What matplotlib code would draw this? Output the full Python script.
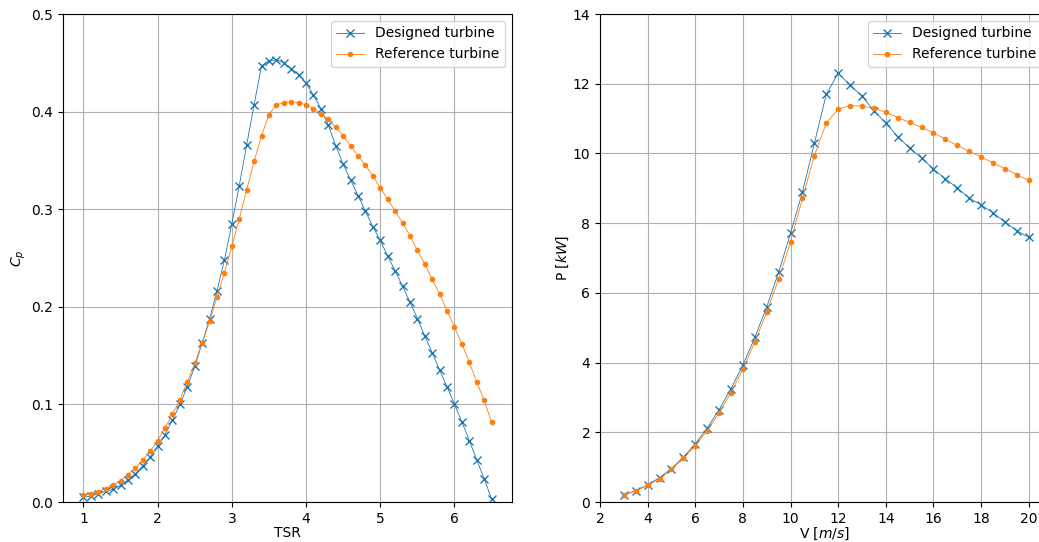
import numpy as np
import matplotlib
matplotlib.use('Agg')
import matplotlib.pyplot as plt

# TSR - Cp
tsr = [1.0, 1.1, 1.2, 1.3, 1.4, 1.5, 1.6, 1.7, 1.8, 1.9,
       2.0, 2.1, 2.2, 2.3, 2.4, 2.5, 2.6, 2.7, 2.8, 2.9,
       3.0, 3.1, 3.2, 3.3, 3.4, 3.5, 3.6, 3.7, 3.8, 3.9,
       4.0, 4.1, 4.2, 4.3, 4.4, 4.5, 4.6, 4.7, 4.8, 4.9,
       5.0, 5.1, 5.2, 5.3, 5.4, 5.5, 5.6, 5.7, 5.8, 5.9,
       6.0, 6.1, 6.2, 6.3, 6.4, 6.5]
cp_designed = [0.005, 0.006, 0.0085, 0.011, 0.013, 0.017, 0.0225, 0.029, 0.037, 0.046,
               0.057, 0.069, 0.084, 0.100, 0.118, 0.139, 0.163, 0.1875, 0.2165, 0.248,
               0.285, 0.324, 0.366, 0.407, 0.447, 0.452, 0.453, 0.450, 0.444, 0.438,
               0.429, 0.417, 0.403, 0.386, 0.365, 0.346, 0.330, 0.314, 0.298, 0.282,
               0.268, 0.252, 0.237, 0.221, 0.205, 0.188, 0.170, 0.153, 0.135, 0.118,
               0.100, 0.082, 0.063, 0.043, 0.024, 0.003]
cp_reference = [0.007, 0.0085, 0.0106, 0.0137, 0.017, 0.022, 0.028, 0.035, 0.043, 0.052,
                0.063, 0.076, 0.090, 0.105, 0.123, 0.142, 0.163, 0.185, 0.210, 0.235,
                0.262, 0.290, 0.320, 0.349, 0.375, 0.397, 0.407, 0.409, 0.410, 0.409,
                0.407, 0.403, 0.398, 0.392, 0.384, 0.375, 0.365, 0.355, 0.345, 0.334,
                0.322, 0.310, 0.298, 0.286, 0.273, 0.258, 0.244, 0.228, 0.213, 0.196,
                0.179, 0.162, 0.143, 0.123, 0.104, 0.082]

# V - P
v = [3.0, 3.5, 4.0, 4.5, 5.0, 5.5, 6.0, 6.5, 7.0, 7.5, 8.0, 8.5, 9.0, 9.5,
     10.0, 10.5, 11.0, 11.5, 12.0, 12.5, 13.0, 13.5, 14.0, 14.5, 15.0, 15.5,
     16.0, 16.5, 17.0, 17.5, 18.0, 18.5, 19.0, 19.5, 20.0]
p_designed = [0.20, 0.32, 0.49, 0.70, 0.96, 1.28, 1.67, 2.12, 2.65, 3.25, 3.93, 4.72, 5.60, 6.59,
              7.71, 8.90, 10.29, 11.70, 12.30, 11.96, 11.64, 11.23, 10.87, 10.48, 10.15, 9.87,
              9.55, 9.27, 9.01, 8.72, 8.52, 8.30, 8.03, 7.78, 7.59]
p_reference = [0.20, 0.32, 0.48, 0.67, 0.94, 1.25, 1.61, 2.05, 2.55, 3.14, 3.81, 4.59, 5.45, 6.40,
               7.46, 8.71, 9.94, 10.87, 11.27, 11.37, 11.36, 11.29, 11.18, 11.03, 10.89, 10.75,
               10.59, 10.41, 10.23, 10.06, 9.90, 9.73, 9.56, 9.39, 9.23]

fig = plt.figure(figsize=(10.39, 5.42), dpi=100)
W, H = 1039, 542
ax1 = fig.add_axes([63 / W, 40 / H, 449 / W, 488 / H])
ax2 = fig.add_axes([600 / W, 40 / H, 449 / W, 488 / H])

line_kw = dict(linewidth=0.6)

ax1.plot(tsr, cp_designed, 'x-', color='C0', markersize=6, label='Designed turbine', **line_kw)
ax1.plot(tsr, cp_reference, '.-', color='C1', markersize=6, label='Reference turbine', **line_kw)
ax1.set_ylim(0, 0.5)
ax1.set_xlabel('TSR', labelpad=0)
ax1.set_ylabel('$C_p$', labelpad=2)
ax1.grid(True)
ax1.legend(loc='upper right')

ax2.plot(v, p_designed, 'x-', color='C0', markersize=6, label='Designed turbine', **line_kw)
ax2.plot(v, p_reference, '.-', color='C1', markersize=6, label='Reference turbine', **line_kw)
ax2.set_xlim(left=2)
ax2.set_ylim(0, 14)
ax2.set_xticks(np.arange(2, 21, 2))
ax2.set_xlabel('V [$m/s$]', labelpad=0)
ax2.set_ylabel('P [$kW$]', labelpad=1)
ax2.grid(True)
ax2.legend(loc='upper right')

fig.savefig('out.png', dpi=100)
